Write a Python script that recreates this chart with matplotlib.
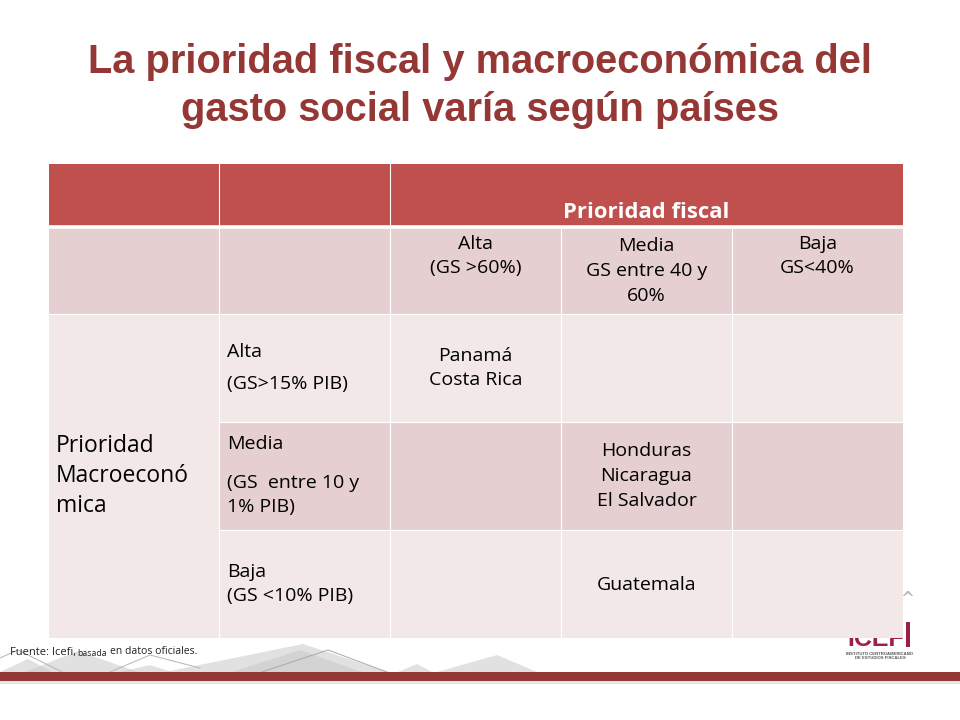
import matplotlib
matplotlib.use("Agg")
import matplotlib.pyplot as plt
from matplotlib.patches import Rectangle, Polygon

# --- textos ---
TITLE_LINES = ["La prioridad fiscal y macroeconómica del", "gasto social varía según países"]
HEADER = "Prioridad fiscal"
FISCAL_LABELS = ["Alta\n(GS >60%)", "Media\nGS entre 40 y\n60%", "Baja\nGS<40%"]
MACRO_TITLE = "Prioridad\nMacroeconó\nmica"
MACRO_LABELS = ["Alta\n(GS>15% PIB)", "(GS  entre 10 y\n1% PIB)", "Baja\n(GS <10% PIB)"]
MACRO_MEDIA = "Media"
CELL_ALTA = "Panamá\nCosta Rica"
CELL_MEDIA = "Honduras\nNicaragua\nEl Salvador"
CELL_BAJA = "Guatemala"
SOURCE = ["Fuente: Icefi,", "basada", "en datos oficiales."]

# --- rejilla en pixeles ---
col_x = [49, 219, 390, 561, 732, 903]
row_y = [164, 226, 314, 422, 530, 638]

RED = "#c0504d"
MID = "#e6cfd0"
LIGHT = "#f2e8e8"
DARK = "#953735"
FONT = "Open Sans"

fig = plt.figure(figsize=(9.6, 7.2), dpi=100)
ax = fig.add_axes([0, 0, 1, 1])
ax.set_xlim(0, 960)
ax.set_ylim(720, 0)
ax.axis("off")

# montañas de fondo
mountains = [
    [(0, 672), (28, 659), (52, 672)],
    [(25, 672), (78, 651), (138, 672)],
    [(120, 672), (150, 665), (172, 672)],
    [(165, 672), (303, 644), (388, 672)],
    [(232, 672), (300, 650), (362, 672)],
    [(398, 672), (417, 664), (432, 672)],
    [(437, 672), (497, 655), (537, 672)],
]
for pts in mountains:
    ax.add_patch(Polygon(pts, closed=True, fc="#c9c9c9", ec="none", alpha=0.55, zorder=1))
ax.plot([0, 18, 62], [658, 650, 672], color="#b5b5b5", lw=0.7, zorder=1)
ax.plot([110, 150, 200], [672, 655, 668], color="#b5b5b5", lw=0.7, zorder=1)
ax.plot([262, 328, 387], [672, 650, 672], color="#a8a8a8", lw=0.7, zorder=1)

# logo (tapado en parte por la tabla)
ax.text(847, 646, "ICEF", ha="left", va="baseline", fontsize=18, fontweight="bold",
        family="Liberation Sans", color="#9c1f45", zorder=1)
ax.add_patch(Rectangle((906, 622), 4, 25, fc="#9c1f45", ec="none", zorder=1))
ax.text(880, 656, "INSTITUTO CENTROAMERICANO\nDE ESTUDIOS FISCALES", ha="center", va="center",
        fontsize=3.1, fontweight="bold", family="Liberation Sans", color="#555555",
        linespacing=1.0, zorder=3)
ax.text(907, 599, "^", ha="center", va="center", fontsize=12, fontweight="bold", color="#bdbdbd", zorder=1)

# banda inferior
ax.add_patch(Rectangle((0, 672), 960, 9, fc=DARK, ec="none", zorder=2))
ax.add_patch(Rectangle((0, 681), 960, 2.5, fc="#dfe8e4", ec="none", zorder=2))

# filas de la tabla
row_colors = [RED, MID, LIGHT, MID, LIGHT]
for r, color in enumerate(row_colors):
    ax.add_patch(Rectangle((col_x[0], row_y[r]), col_x[-1] - col_x[0], row_y[r + 1] - row_y[r],
                           fc=color, ec="none", zorder=4))
# la primera columna es una sola celda de la fila 3 a la 5
ax.add_patch(Rectangle((col_x[0], row_y[2]), col_x[1] - col_x[0], row_y[-1] - row_y[2],
                       fc=LIGHT, ec="none", zorder=4))

# lineas blancas
LINE = dict(color="white", lw=0.8, zorder=5)
ax.plot([col_x[0], col_x[-1]], [row_y[1] + 1, row_y[1] + 1], color="white", lw=2.6, zorder=5)
ax.plot([col_x[0], col_x[-1]], [row_y[2], row_y[2]], **LINE)
ax.plot([col_x[1], col_x[-1]], [row_y[3], row_y[3]], **LINE)
ax.plot([col_x[1], col_x[-1]], [row_y[4], row_y[4]], **LINE)
for x in col_x[1:3]:
    ax.plot([x, x], [row_y[0], row_y[-1]], **LINE)
for x in col_x[3:5]:
    ax.plot([x, x], [row_y[1], row_y[-1]], **LINE)

# titulo
ax.text(480, 62, TITLE_LINES[0], ha="center", va="center", fontsize=28.7, fontweight="bold",
        family="Liberation Sans", color=DARK, zorder=6)
ax.text(480, 110, TITLE_LINES[1], ha="center", va="center", fontsize=28.7, fontweight="bold",
        family="Liberation Sans", color=DARK, zorder=6)

# encabezado
ax.text(646, 212, HEADER, ha="center", va="center", fontsize=15.8, fontweight="bold",
        family=FONT, color="white", zorder=6)


def put(x, y, label, size=14, ha="center", gap=1.48):
    ax.text(x, y, label, ha=ha, va="center", fontsize=size, family=FONT, color="black",
            linespacing=gap, zorder=6)


# encabezados de columna
put((col_x[2] + col_x[3]) / 2, 256, FISCAL_LABELS[0])
put((col_x[3] + col_x[4]) / 2, 271, FISCAL_LABELS[1])
put((col_x[4] + col_x[5]) / 2, 256, FISCAL_LABELS[2])

# encabezados de fila
put(227, 368, MACRO_LABELS[0], ha="left", gap=1.96)
put(227, 444, MACRO_MEDIA, ha="left")
put(227, 495, MACRO_LABELS[1], ha="left")
put(227, 584, MACRO_LABELS[2], ha="left")
put(56, 476, MACRO_TITLE, size=16.5, ha="left", gap=1.32)

# celdas
put((col_x[2] + col_x[3]) / 2, 368, CELL_ALTA)
put((col_x[3] + col_x[4]) / 2, 476, CELL_MEDIA)
put((col_x[3] + col_x[4]) / 2, 585, CELL_BAJA)

# fuente
ax.text(10, 652, SOURCE[0], ha="left", va="center", fontsize=8, family=FONT, color="#222222", zorder=6)
ax.text(77, 653, SOURCE[1], ha="left", va="center", fontsize=6.3, family=FONT, color="#222222", zorder=6)
ax.text(110, 652, SOURCE[2], ha="left", va="center", fontsize=7.5, family=FONT, color="#222222", zorder=6)

fig.savefig("out.png", dpi=100, facecolor="white")
